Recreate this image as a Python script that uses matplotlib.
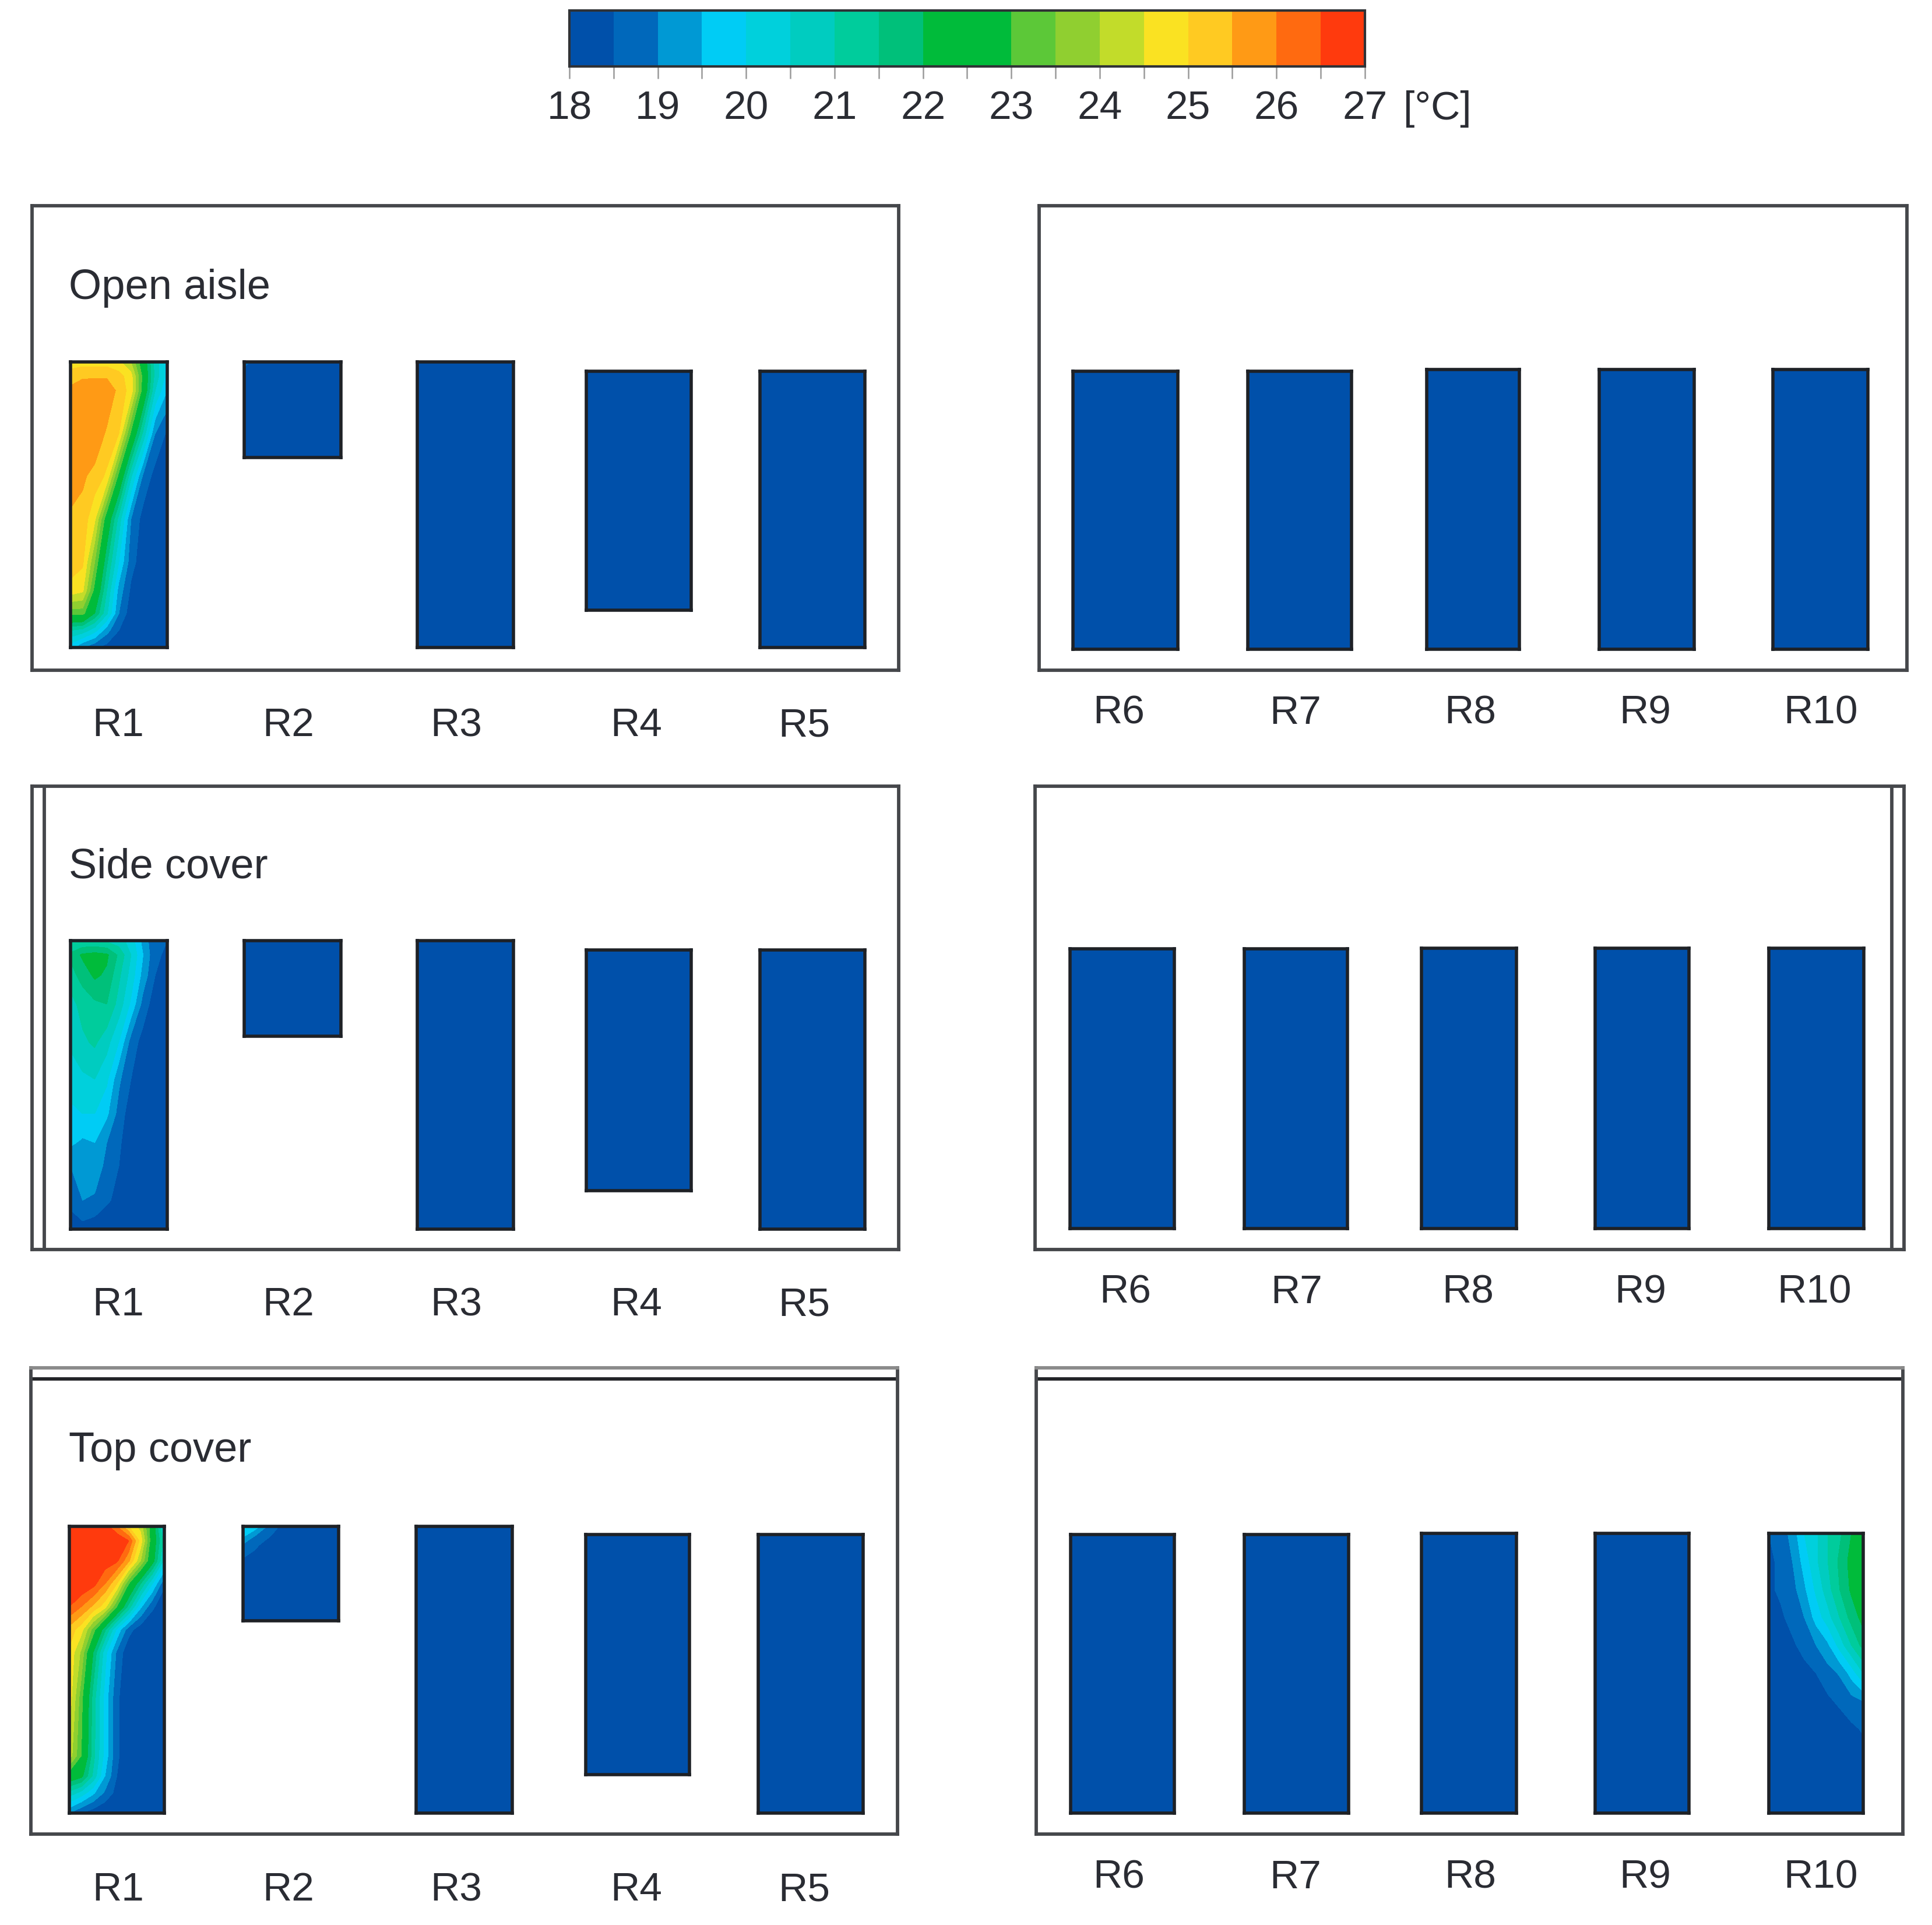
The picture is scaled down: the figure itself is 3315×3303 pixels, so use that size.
import numpy as np
import matplotlib
matplotlib.use("Agg")
import matplotlib.pyplot as plt
from matplotlib.colors import ListedColormap, BoundaryNorm
from matplotlib.cm import ScalarMappable

plt.rcParams['font.family'] = ['Liberation Sans', 'DejaVu Sans']

W, H = 3316, 3303
TEXT_COLOR = '#2a2c33'
LEVELS = np.arange(18, 27.5, 0.5)
BAND_COLORS = ['#0050aa', '#0068bb', '#0099d4', '#00ccf5', '#00d0dc', '#00ccc0',
               '#00cc9c', '#00c07a', '#00bb3a', '#00bb3a', '#5cc838', '#90cf30',
               '#c2dc2a', '#fae222', '#ffca22', '#ff9a15', '#ff6a10', '#ff3a0d']

TICK_LABELS = ['18', '', '19', '', '20', '', '21', '', '22', '', '23', '', '24', '',
               '25', '', '26', '', '27']

# temperatures, rows top to bottom, columns left to right
COL_FRAC = [0, .125, .25, .375, .5, .625, .75, .875, 1]

OPEN_R1_ROWS = [0, .05, .1, .25, .4, .55, .7, .8, .88, .94, 1]
OPEN_R1 = [
    [24.7, 24.8, 24.8, 24.8, 24.6, 24.0, 22.5, 20.8, 19.8],
    [25.3, 25.4, 25.4, 25.4, 25.2, 24.7, 22.8, 20.8, 19.8],
    [25.6, 25.9, 26.0, 26.0, 25.3, 24.8, 22.7, 20.5, 19.5],
    [26.0, 26.0, 26.0, 25.4, 25.0, 22.9, 20.9, 19.0, 18.4],
    [25.8, 25.6, 25.3, 24.9, 22.8, 20.6, 18.9, 18.3, 18.1],
    [25.4, 25.3, 24.6, 22.6, 20.8, 19.0, 18.3, 18.1, 18.0],
    [25.3, 25.1, 23.5, 21.6, 20.0, 18.7, 18.2, 18.0, 18.0],
    [24.8, 24.6, 22.8, 21.0, 19.3, 18.4, 18.1, 18.0, 18.0],
    [23.2, 23.2, 22.0, 20.6, 19.0, 18.2, 18.0, 18.0, 18.0],
    [21.0, 20.8, 20.2, 19.2, 18.5, 18.1, 18.0, 18.0, 18.0],
    [19.7, 19.0, 18.6, 18.3, 18.1, 18.0, 18.0, 18.0, 18.0],
]

OPEN_R2_ROWS = [0, .08, 1]
OPEN_R2 = [
    [18.8, 18.2, 18.1, 18.0, 18.0, 18.0, 18.0, 18.0, 18.0],
    [18.4, 18.1, 18.0, 18.0, 18.0, 18.0, 18.0, 18.0, 18.0],
    [18.0, 18.0, 18.0, 18.0, 18.0, 18.0, 18.0, 18.0, 18.0],
]

SIDE_R1_ROWS = [0, .05, .12, .22, .35, .48, .6, .7, .78, .9, 1]
SIDE_R1 = [
    [21.0, 21.0, 21.0, 20.9, 20.7, 20.3, 19.3, 18.6, 18.5],
    [21.6, 22.1, 22.2, 22.1, 21.4, 20.5, 19.5, 18.6, 18.4],
    [21.3, 21.7, 22.1, 21.9, 21.1, 20.3, 19.3, 18.5, 18.2],
    [20.8, 21.2, 21.4, 21.5, 20.8, 19.9, 18.8, 18.2, 18.0],
    [20.6, 20.9, 21.1, 20.7, 20.0, 18.8, 18.3, 18.0, 18.0],
    [20.2, 20.4, 20.5, 20.1, 19.1, 18.5, 18.0, 18.0, 18.0],
    [19.9, 20.0, 20.0, 19.6, 18.8, 18.2, 18.0, 18.0, 18.0],
    [19.6, 19.4, 19.5, 19.0, 18.6, 18.1, 18.0, 18.0, 18.0],
    [19.0, 19.2, 19.2, 18.9, 18.5, 18.0, 18.0, 18.0, 18.0],
    [18.6, 19.0, 18.95, 18.6, 18.3, 18.0, 18.0, 18.0, 18.0],
    [18.3, 18.3, 18.15, 18.0, 18.0, 18.0, 18.0, 18.0, 18.0],
]

TOP_R1_ROWS = [0, .05, .12, .2, .28, .36, .44, .6, .8, .87, .93, 1]
TOP_R1 = [
    [26.8, 26.8, 26.8, 26.8, 26.0, 25.0, 24.3, 22.5, 20.2],
    [27.0, 27.0, 27.0, 27.0, 27.0, 26.5, 24.8, 22.5, 20.8],
    [27.0, 27.0, 27.0, 26.8, 26.6, 25.6, 24.0, 22.3, 20.3],
    [27.0, 27.0, 26.7, 26.0, 25.0, 23.0, 21.5, 20.0, 18.6],
    [26.5, 26.0, 25.4, 24.7, 23.0, 21.3, 19.6, 18.6, 18.1],
    [25.3, 24.7, 23.3, 21.6, 19.9, 18.7, 18.2, 18.0, 18.0],
    [24.9, 23.9, 22.0, 20.2, 18.9, 18.1, 18.0, 18.0, 18.0],
    [24.8, 23.2, 21.3, 19.8, 18.6, 18.1, 18.0, 18.0, 18.0],
    [24.3, 23.0, 21.2, 19.8, 18.6, 18.1, 18.0, 18.0, 18.0],
    [22.6, 22.2, 20.9, 19.5, 18.5, 18.1, 18.0, 18.0, 18.0],
    [20.8, 20.3, 19.6, 18.9, 18.3, 18.0, 18.0, 18.0, 18.0],
    [19.0, 18.5, 18.2, 18.0, 18.0, 18.0, 18.0, 18.0, 18.0],
]

TOP_R2_ROWS = [0, .1, .2, .4, 1]
TOP_R2 = [
    [20.0, 19.8, 19.0, 18.5, 18.2, 18.0, 18.0, 18.0, 18.0],
    [19.6, 19.0, 18.6, 18.3, 18.1, 18.0, 18.0, 18.0, 18.0],
    [18.9, 18.6, 18.3, 18.1, 18.0, 18.0, 18.0, 18.0, 18.0],
    [18.3, 18.2, 18.0, 18.0, 18.0, 18.0, 18.0, 18.0, 18.0],
    [18.0, 18.0, 18.0, 18.0, 18.0, 18.0, 18.0, 18.0, 18.0],
]

TOP_R10_ROWS = [0, .1, .2, .3, .4, .5, .6, .7, .85, 1]
TOP_R10 = [
    [18.5, 18.7, 19.2, 20.0, 20.4, 21.0, 21.4, 22.0, 22.6],
    [18.4, 18.6, 19.0, 19.7, 20.4, 21.0, 21.6, 22.2, 22.8],
    [18.4, 18.6, 18.8, 19.4, 20.1, 20.8, 21.5, 22.1, 22.6],
    [18.1, 18.4, 18.7, 19.0, 19.7, 20.3, 21.0, 21.7, 22.2],
    [18.0, 18.1, 18.4, 18.7, 19.0, 19.4, 20.2, 21.0, 21.7],
    [18.0, 18.0, 18.1, 18.3, 18.5, 18.8, 19.05, 19.7, 20.5],
    [18.0, 18.0, 18.0, 18.1, 18.3, 18.4, 18.6, 18.8, 19.0],
    [18.0, 18.0, 18.0, 18.0, 18.05, 18.1, 18.2, 18.4, 18.55],
    [18.0, 18.0, 18.0, 18.0, 18.0, 18.0, 18.0, 18.1, 18.2],
    [18.0, 18.0, 18.0, 18.0, 18.0, 18.0, 18.0, 18.0, 18.0],
]

COLD = [[18.1, 18.1], [18.1, 18.1]]
COLD_ROWS = [0, 1]
COLD_COLS = [0, 1]

PANELS = [
    # title, frame (x0, x1, y0, y1), extra line, label y, label x, racks, title y
    ('Open aisle', (55, 1542, 353, 1150), None, 1245,
     [203, 495, 783, 1092, 1380],
     [('R1', 121, 287, 621, 1111, OPEN_R1), ('R2', 419, 585, 621, 785, OPEN_R2),
      ('R3', 716, 881, 621, 1111, None), ('R4', 1006, 1186, 637, 1047, None),
      ('R5', 1304, 1484, 637, 1111, None)], 494),
    (None, (1783, 3272, 353, 1150), None, 1224,
     [1920, 2223, 2523, 2823, 3124],
     [('R6', 1841, 2021, 637, 1114, None), ('R7', 2141, 2319, 637, 1114, None),
      ('R8', 2448, 2607, 634, 1114, None), ('R9', 2744, 2907, 634, 1114, None),
      ('R10', 3042, 3205, 634, 1114, None)], 0),
    ('Side cover', (55, 1542, 1349, 2144), ('v', 76), 2239,
     [203, 495, 783, 1092, 1380],
     [('R1', 121, 287, 1614, 2109, SIDE_R1), ('R2', 419, 585, 1614, 1778, None),
      ('R3', 716, 881, 1614, 2109, None), ('R4', 1006, 1186, 1630, 2043, None),
      ('R5', 1304, 1484, 1630, 2109, None)], 1488),
    (None, (1776, 3267, 1349, 2144), ('v', 3246), 2218,
     [1931, 2225, 2519, 2815, 3113],
     [('R6', 1836, 2015, 1628, 2108, None), ('R7', 2135, 2312, 1628, 2108, None),
      ('R8', 2439, 2602, 1627, 2108, None), ('R9', 2737, 2898, 1627, 2108, None),
      ('R10', 3035, 3198, 1627, 2108, None)], 0),
    ('Top cover', (53, 1540, 2347, 3147), ('h', 2366), 3243,
     [203, 495, 783, 1092, 1380],
     [('R1', 119, 282, 2619, 3111, TOP_R1), ('R2', 417, 581, 2619, 2781, TOP_R2),
      ('R3', 714, 879, 2619, 3111, None), ('R4', 1005, 1183, 2633, 3045, None),
      ('R5', 1301, 1481, 2633, 3111, None)], 2490),
    (None, (1778, 3265, 2347, 3147), ('h', 2366), 3222,
     [1920, 2223, 2523, 2823, 3124],
     [('R6', 1837, 2015, 2633, 3111, None), ('R7', 2135, 2314, 2633, 3111, None),
      ('R8', 2439, 2602, 2631, 3111, None), ('R9', 2737, 2898, 2631, 3111, None),
      ('R10', 3035, 3197, 2631, 3111, TOP_R10)], 0),
]

ROWS_FOR = {id(OPEN_R1): OPEN_R1_ROWS, id(OPEN_R2): OPEN_R2_ROWS, id(SIDE_R1): SIDE_R1_ROWS,
            id(TOP_R1): TOP_R1_ROWS, id(TOP_R2): TOP_R2_ROWS, id(TOP_R10): TOP_R10_ROWS}

cmap = ListedColormap(BAND_COLORS)
cmap.set_under(BAND_COLORS[0])
cmap.set_over(BAND_COLORS[-1])
norm = BoundaryNorm(LEVELS, cmap.N)


def px_axes(fig, x0, x1, y0, y1, **kw):
    return fig.add_axes([x0 / W, 1 - y1 / H, (x1 - x0) / W, (y1 - y0) / H], **kw)


def draw_rack(fig, x0, x1, y0, y1, field):
    ax = px_axes(fig, x0, x1, y0, y1)
    if field is None:
        rows, cols, vals = COLD_ROWS, COLD_COLS, COLD
    else:
        rows, cols, vals = ROWS_FOR[id(field)], COL_FRAC, field
    ax.contourf(cols, rows, np.array(vals), levels=LEVELS, cmap=cmap, norm=norm,
                extend='both', antialiased=False)
    ax.set_xlim(0, 1)
    ax.set_ylim(1, 0)
    ax.set_xticks([])
    ax.set_yticks([])
    for s in ax.spines.values():
        s.set_linewidth(4)
        s.set_color('#1e2126')


fig = plt.figure(figsize=(W / 100, H / 100), dpi=100, facecolor='white')

for title, frame, extra, label_y, label_xs, racks, title_y in PANELS:
    x0, x1, y0, y1 = frame
    ax = px_axes(fig, x0, x1, y0, y1)
    ax.set_xlim(x0, x1)
    ax.set_ylim(y1, y0)
    ax.set_xticks([])
    ax.set_yticks([])
    for s in ax.spines.values():
        s.set_linewidth(4.2)
        s.set_color('#45474b')
    if extra is not None:
        if extra[0] == 'v':
            ax.axvline(extra[1], color='#45474b', lw=4.2)
        else:
            ax.axhline(extra[1], color='#222428', lw=4.2)
            ax.spines['top'].set_color('#8a8a8a')
    if title:
        ax.text(118, title_y, title, fontsize=52, color=TEXT_COLOR, va='center', ha='left')
    for (name, rx0, rx1, ry0, ry1, field), lx in zip(racks, label_xs):
        draw_rack(fig, rx0, rx1, ry0, ry1, field)
        fig.text(lx / W, 1 - label_y / H, name, fontsize=50, color=TEXT_COLOR,
                 ha='center', va='center')

# colour scale on top
cax = px_axes(fig, 977, 2342, 18, 114)
cbar = fig.colorbar(ScalarMappable(norm=norm, cmap=cmap), cax=cax, orientation='horizontal',
                    spacing='proportional', drawedges=False)
cbar.set_ticks(LEVELS, labels=TICK_LABELS)
cbar.ax.tick_params(axis='x', which='major', length=15, width=1.8, color='#9a9a9a',
                    labelsize=50, labelcolor=TEXT_COLOR, pad=14)
cbar.ax.minorticks_off()
cbar.outline.set_linewidth(3)
cbar.outline.set_edgecolor('#303236')
fig.text(2408 / W, 1 - 187 / H, '[°C]', fontsize=50, color=TEXT_COLOR, ha='left', va='center')

fig.savefig('out.png', dpi=100)
